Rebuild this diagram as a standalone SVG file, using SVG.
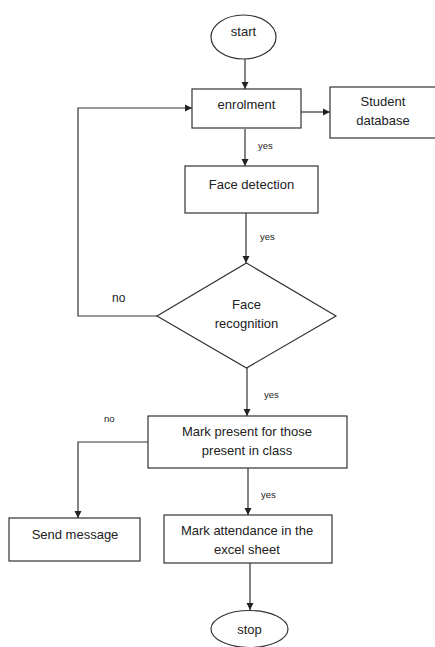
<svg xmlns="http://www.w3.org/2000/svg" width="435" height="647" viewBox="0 0 435 647">
<defs>
<marker id="ah" markerWidth="8" markerHeight="8" refX="7" refY="4" orient="auto" markerUnits="userSpaceOnUse">
<path d="M0,0.5 L7,4 L0,7.5 Z" fill="#222"/>
</marker>
<style>
.shape{fill:#fff;stroke:#333;stroke-width:1.2}
.line{fill:none;stroke:#333;stroke-width:1.2}
.t{font-family:"Liberation Sans",Arial,sans-serif;font-size:13px;fill:#222;text-anchor:middle}
.s{font-family:"Liberation Sans",Arial,sans-serif;font-size:9.5px;fill:#222}
.n{font-family:"Liberation Sans",Arial,sans-serif;font-size:12px;fill:#222}
</style>
</defs>
<rect width="435" height="647" fill="#fff"/>
<g id="connectors">
<line class="line" x1="245" y1="59" x2="245" y2="89" marker-end="url(#ah)"/>
<line class="line" x1="301" y1="112" x2="330" y2="112" marker-end="url(#ah)"/>
<line class="line" x1="245" y1="129" x2="245" y2="166" marker-end="url(#ah)"/>
<line class="line" x1="246" y1="213" x2="246" y2="263" marker-end="url(#ah)"/>
<polyline class="line" points="157,316 78,316 78,108 192,108" marker-end="url(#ah)"/>
<line class="line" x1="247" y1="368" x2="247" y2="416" marker-end="url(#ah)"/>
<polyline class="line" points="148,442 78,442 78,518" marker-end="url(#ah)"/>
<line class="line" x1="248" y1="468" x2="248" y2="515" marker-end="url(#ah)"/>
<line class="line" x1="250" y1="563" x2="250" y2="610" marker-end="url(#ah)"/>
<text class="s" x="258" y="149">yes</text>
<text class="s" x="260" y="240">yes</text>
<text class="n" x="112" y="302">no</text>
<text class="s" x="264" y="398">yes</text>
<text class="s" x="104" y="422">no</text>
<text class="s" x="261" y="498">yes</text>
</g>
<g id="start">
<ellipse class="shape" cx="243.5" cy="37" rx="32.5" ry="22"/>
<text class="t" x="243.5" y="36">start</text>
</g>
<g id="enrolment">
<rect class="shape" x="192" y="89" width="109" height="39"/>
<text class="t" x="246.5" y="109">enrolment</text>
</g>
<g id="student-database">
<rect class="shape" x="330" y="87" width="108" height="51"/>
<text class="t" x="383" y="106">Student</text>
<text class="t" x="383" y="125">database</text>
</g>
<g id="face-detection">
<rect class="shape" x="185" y="166" width="133" height="47"/>
<text class="t" x="251.5" y="189">Face detection</text>
</g>
<g id="face-recognition">
<polygon class="shape" points="246.5,263 336,316 246.5,368 157,316"/>
<text class="t" x="246.5" y="309">Face</text>
<text class="t" x="246.5" y="328">recognition</text>
</g>
<g id="mark-present">
<rect class="shape" x="148" y="416" width="199" height="52"/>
<text class="t" x="247" y="436">Mark present for those</text>
<text class="t" x="247" y="455">present in class</text>
</g>
<g id="send-message">
<rect class="shape" x="9" y="518" width="131" height="43"/>
<text class="t" x="75" y="539">Send message</text>
</g>
<g id="mark-attendance">
<rect class="shape" x="164" y="515" width="168" height="48"/>
<text class="t" x="247" y="535">Mark attendance in the</text>
<text class="t" x="247" y="554">excel sheet</text>
</g>
<g id="stop">
<ellipse class="shape" cx="249.5" cy="629" rx="38.5" ry="18.5"/>
<text class="t" x="249.5" y="634">stop</text>
</g>
</svg>
